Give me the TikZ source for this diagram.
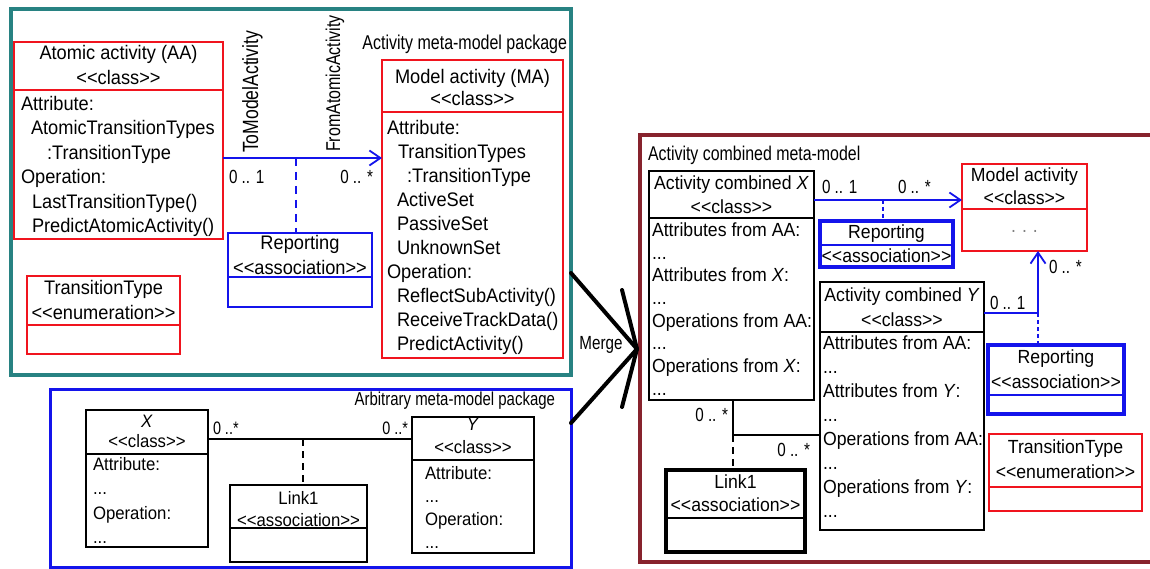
\documentclass[tikz,border=0pt]{standalone}
\usepackage{fontspec}
\setmainfont{Liberation Sans}[FakeStretch=0.93]
\newfontfamily\condfont{Liberation Sans}[FakeStretch=0.8]
\usetikzlibrary{fit,arrows.meta}

\definecolor{pkgteal}{RGB}{40,130,130}
\definecolor{umlred}{RGB}{240,20,30}
\definecolor{umlblue}{RGB}{20,20,235}
\definecolor{pkgmaroon}{RGB}{135,35,45}

\newcommand\setfs[2]{\fontsize{#1}{#2}\selectfont}
\newcommand\stereo[1]{<{}<#1>{}>}
% a box spanning two corners, and a horizontal compartment line inside it
\newcommand\umlbox[6]{\node[#2, fit={(#3,#4) (#5,#6)}] (#1) {};}
\newcommand\umldiv[3]{\draw[#2] (#1.west |- 0,#3) -- (#1.east |- 0,#3);}

\begin{document}
% multi-line text nodes are placed by the baseline of their last line
\begin{tikzpicture}[x=1pt,y=-1pt,
  every node/.style={inner sep=0pt,outer sep=0pt},
  tealpkg/.style={draw=pkgteal,line width=3.5pt},
  bluepkg/.style={draw=umlblue,line width=3pt},
  maroonpkg/.style={draw=pkgmaroon,line width=3.2pt},
  redbox/.style={draw=umlred,line width=1.8pt},
  bluebox/.style={draw=umlblue,line width=1.8pt},
  heavyblue/.style={draw=umlblue,line width=4.5pt},
  blackbox/.style={draw=black,line width=1.8pt},
  heavyblack/.style={draw=black,line width=4pt},
  reddiv/.style={draw=umlred,line width=1.8pt},
  bluediv/.style={draw=umlblue,line width=1.8pt},
  heavybluediv/.style={draw=umlblue,line width=2.6pt},
  blackdiv/.style={draw=black,line width=1.8pt},
  heavyblackdiv/.style={draw=black,line width=2.8pt},
  ttl/.style={anchor=base,align=center},
  bdy/.style={anchor=base west,align=left},
  mult/.style={font=\condfont\setfs{19}{19}},
  assocblue/.style={draw=umlblue,line width=1.8pt},
  assocblack/.style={draw=black,line width=1.8pt},
  navarrow/.style={-{Straight Barb[length=11pt,width=15pt]}},
  bluedash/.style={draw=umlblue,line width=2pt,dash pattern=on 8pt off 6pt},
  bluedot/.style={draw=umlblue,line width=2pt,dash pattern=on 4pt off 3pt},
  blackdash/.style={draw=black,line width=2pt,dash pattern=on 7pt off 5pt},
  mergeline/.style={draw=black,line width=4pt,line cap=round,line join=round}]

\fill[white] (0,0) rectangle (1150,569);
\useasboundingbox (0,0) rectangle (1150,569);
\clip (0,0) rectangle (1150,569);

% ---------------- Activity meta-model package ----------------
\umlbox{pkgact}{tealpkg}{11}{9}{571}{375}
\node[anchor=base east,font=\condfont\setfs{20}{20}] (pkgactlbl) at (567,49.5) {Activity meta-model package};

\umlbox{aa}{redbox}{14}{42}{223}{239}
\umldiv{aa}{reddiv}{90}
\node[ttl,font=\setfs{19.6}{25}] (aattl) at (118.5,84.5) {Atomic activity (AA)\\\stereo{class}};
\node[bdy,font=\setfs{19.6}{24.5}] (aabody) at (21,233) {Attribute:\\\hspace*{10pt}AtomicTransitionTypes\\\hspace*{26pt}:TransitionType\\Operation:\\\hspace*{11pt}LastTransitionType()\\\hspace*{11pt}PredictAtomicActivity()};

\umlbox{ma}{redbox}{382}{60}{563}{358}
\umldiv{ma}{reddiv}{112}
\node[ttl,font=\setfs{19.6}{22.5}] (mattl) at (472.5,106) {Model activity (MA)\\\stereo{class}};
\node[bdy,font=\setfs{19.6}{24}] (mabody) at (387,350.5) {Attribute:\\\hspace*{11pt}TransitionTypes\\\hspace*{20pt}:TransitionType\\\hspace*{10pt}ActiveSet\\\hspace*{10pt}PassiveSet\\\hspace*{10pt}UnknownSet\\Operation:\\\hspace*{10pt}ReflectSubActivity()\\\hspace*{10pt}ReceiveTrackData()\\\hspace*{10pt}PredictActivity()};

\umlbox{rep}{bluebox}{228}{233}{372}{307}
\umldiv{rep}{bluediv}{277}
\node[ttl,font=\setfs{19.6}{24.5}] (repttl) at (300,274) {Reporting\\\stereo{association}};

\umlbox{tt}{redbox}{27}{276}{180}{354}
\umldiv{tt}{reddiv}{325}
\node[ttl,font=\setfs{19.6}{25}] (ttttl) at (103.5,319.5) {TransitionType\\\stereo{enumeration}};

\draw[assocblue,navarrow] (aa.east |- 0,158) -- (ma.west |- 0,158);
\coordinate (repjoin) at (296,158);
\draw[bluedash] (repjoin) -- (repjoin |- rep.north);
\node[rotate=90,anchor=base west,font=\condfont\setfs{22}{22}] (rolea) at (258,153) {ToModelActivity};
\node[rotate=90,anchor=base west,font=\condfont\setfs{20}{20}] (roleb) at (340,152) {FromAtomicActivity};
\node[mult,anchor=base west] (ma1) at (229,184) {0 .. 1};
\node[mult,anchor=base east] (ma2) at (373,184) {0 .. *};

% ---------------- Arbitrary meta-model package ----------------
\umlbox{pkgarb}{bluepkg}{50}{389}{571}{567}
\node[anchor=base east,font=\condfont\setfs{18.7}{18.7}] (pkgarblbl) at (555,405) {Arbitrary meta-model package};

\umlbox{bx}{blackbox}{86}{410}{208}{547}
\umldiv{bx}{blackdiv}{454}
\node[ttl,font=\setfs{18}{20.5}] (bxttl) at (147,447.5) {\textit{X}\\\stereo{class}};
\node[bdy,font=\setfs{18}{24.5}] (bxbody) at (93,543.5) {Attribute:\\...\\Operation:\\...};

\umlbox{by}{blackbox}{412}{417}{534}{553}
\umldiv{by}{blackdiv}{460}
\node[ttl,font=\setfs{18}{22.5}] (byttl) at (473,453) {\textit{Y}\\\stereo{class}};
\node[bdy,font=\setfs{18}{23}] (bybody) at (425,548) {Attribute:\\...\\Operation:\\...};

\umlbox{lk}{blackbox}{230}{485}{367}{562}
\umldiv{lk}{blackdiv}{528}
\node[ttl,font=\setfs{18}{22}] (lkttl) at (298.5,526) {Link1\\\stereo{association}};

\draw[assocblack] (bx.east |- 0,439) -- (by.west |- 0,439);
\coordinate (lkjoin) at (303,439);
\draw[blackdash] (lkjoin) -- (lkjoin |- lk.north);
\node[anchor=base west,font=\condfont\setfs{18}{18}] (mb1) at (213,434) {0 ..*};
\node[anchor=base east,font=\condfont\setfs{18}{18}] (mb2) at (408,434) {0 ..*};

% ---------------- Activity combined meta-model ----------------
\umlbox{pkgcomb}{maroonpkg}{640}{135}{1160}{562}
\node[anchor=base west,font=\condfont\setfs{19.9}{19.9}] (pkgcomblbl) at (648,160.5) {Activity combined meta-model};

\umlbox{cx}{blackbox}{649}{171}{814}{400}
\umldiv{cx}{blackdiv}{218}
\node[ttl,font=\setfs{19}{24}] (cxttl) at (731.5,213.3) {Activity combined \textit{X}\\\stereo{class}};
\node[bdy,font=\setfs{19}{22.7}] (cxbody) at (652,395.2) {Attributes from AA:\\...\\Attributes from \textit{X}:\\...\\Operations from AA:\\...\\Operations from \textit{X}:\\...};

\umlbox{cy}{blackbox}{820}{282}{984}{530}
\umldiv{cy}{blackdiv}{332}
\node[ttl,font=\setfs{19}{25}] (cyttl) at (902,326.3) {Activity combined \textit{Y}\\\stereo{class}};
\node[bdy,font=\setfs{19}{24}] (cybody) at (823,517.3) {Attributes from AA:\\...\\Attributes from \textit{Y}:\\...\\Operations from AA:\\...\\Operations from \textit{Y}:\\...};

\umlbox{cma}{redbox}{962}{164}{1087}{251}
\umldiv{cma}{reddiv}{209}
\node[ttl,font=\setfs{19}{23}] (cmattl) at (1024.5,204.3) {Model activity\\\stereo{class}};
\node[ttl,font=\setfs{19}{19},text=gray] (cmabody) at (1024.5,233) {.\hspace{6pt}.\hspace{6pt}.};

\umlbox{crep}{heavyblue}{820}{221}{953}{267}
\umldiv{crep}{heavybluediv}{245}
\node[ttl,font=\setfs{19}{24}] (crepttl) at (886.5,262.3) {Reporting\\\stereo{association}};

\umlbox{crep2}{heavyblue}{988}{345}{1124}{414}
\umldiv{crep2}{bluediv}{395}
\node[ttl,font=\setfs{19}{25}] (crep2ttl) at (1056,388.3) {Reporting\\\stereo{association}};

\umlbox{ctt}{redbox}{989}{434}{1142}{511}
\umldiv{ctt}{reddiv}{487}
\node[ttl,font=\setfs{19}{25}] (cttttl) at (1065.5,478.3) {TransitionType\\\stereo{enumeration}};

\umlbox{clk}{heavyblack}{666}{470}{805}{552}
\umldiv{clk}{heavyblackdiv}{518}
\node[ttl,font=\setfs{19}{23}] (clkttl) at (735.5,511.3) {Link1\\\stereo{association}};

\draw[assocblue,navarrow] (cx.east |- 0,200) -- (cma.west |- 0,200);
\coordinate (crepjoin) at (883,200);
\draw[bluedot] (crepjoin) -- (crepjoin |- crep.north);
\coordinate (cbend) at (1038,313);
\draw[assocblue,navarrow] (cy.east |- cbend) -- (cbend) -- (cbend |- cma.south);
\draw[bluedot] (cbend) -- (cbend |- crep2.north);
\coordinate (cjoin) at (733,435);
\draw[assocblack] (cx.south -| cjoin) -- (cjoin) -- (cy.west |- cjoin);
\draw[blackdash,line width=2.5pt] (cjoin) -- (cjoin |- clk.north);

\node[mult,anchor=base west] (cm1) at (822,194) {0 .. 1};
\node[mult,anchor=base west] (cm2) at (898,194) {0 .. *};
\node[mult,anchor=base west] (cm3) at (990,309) {0 .. 1};
\node[mult,anchor=base west] (cm4) at (1049,273) {0 .. *};
\node[mult,anchor=base east] (cm5) at (728,421) {0 .. *};
\node[mult,anchor=base east] (cm6) at (810,456) {0 .. *};

% ---------------- merge of the two packages ----------------
\coordinate (mtip) at (637,349);
\draw[mergeline] (pkgact.east |- 0,273) -- (mtip) -- (pkgarb.east |- 0,423);
\draw[mergeline] (622,290) -- (mtip) -- (622,407);
\node[font=\condfont\setfs{19}{19}] (mergelbl) at (601,345) {Merge};

\end{tikzpicture}
\end{document}
